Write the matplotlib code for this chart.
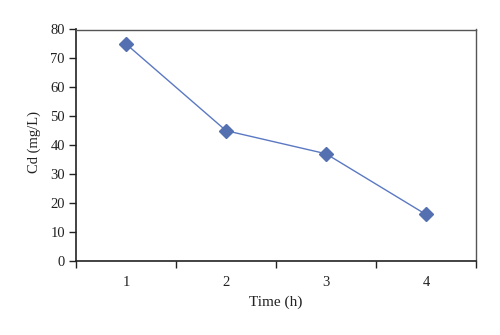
import matplotlib
matplotlib.use("Agg")
import matplotlib.pyplot as plt
from matplotlib.ticker import FixedLocator, NullFormatter, FixedFormatter

categories = ["1", "2", "3", "4"]
values = [75, 45, 37, 16]
yticks = [0, 10, 20, 30, 40, 50, 60, 70, 80]

plt.rcParams['font.family'] = ['Liberation Serif', 'DejaVu Serif']

fig = plt.figure(figsize=(5, 3.35), dpi=100)
ax = fig.add_axes([76/500, 1-260.7/335, 400/500, (260.7-29.5)/335])

x = list(range(1, len(categories)+1))
ax.plot(x, values, color='#5b78c2', lw=1.0, marker='D', markersize=7,
        markerfacecolor='#5470b0', markeredgecolor='#5470b0', zorder=3, clip_on=False)

ax.set_xlim(0.5, len(categories)+0.5)
ax.set_ylim(0, 80)
ax.set_yticks(yticks)
ax.tick_params(axis='y', direction='out', length=5, width=1, labelsize=10.5, pad=3, colors='#222222')
ax.xaxis.set_major_locator(FixedLocator([0.5 + i for i in range(len(categories)+1)]))
ax.xaxis.set_major_formatter(NullFormatter())
ax.xaxis.set_minor_locator(FixedLocator(x))
ax.xaxis.set_minor_formatter(FixedFormatter(categories))
ax.tick_params(axis='x', which='major', direction='out', length=5, width=1, colors='#222222')
ax.tick_params(axis='x', which='minor', length=0, labelsize=10.5, pad=11, colors='#222222')

for s in ['left', 'bottom']:
    ax.spines[s].set_color('#222222')
    ax.spines[s].set_linewidth(1.2)
for s in ['top', 'right']:
    ax.spines[s].set_color('#555555')
    ax.spines[s].set_linewidth(1.0)

ax.set_ylabel('Cd (mg/L)', fontsize=10.5, color='#222222')
ax.yaxis.set_label_coords(-0.088, 0.513)
ax.set_xlabel('Time (h)', fontsize=11, labelpad=5, color='#222222')

fig.savefig('out.png', dpi=100)
